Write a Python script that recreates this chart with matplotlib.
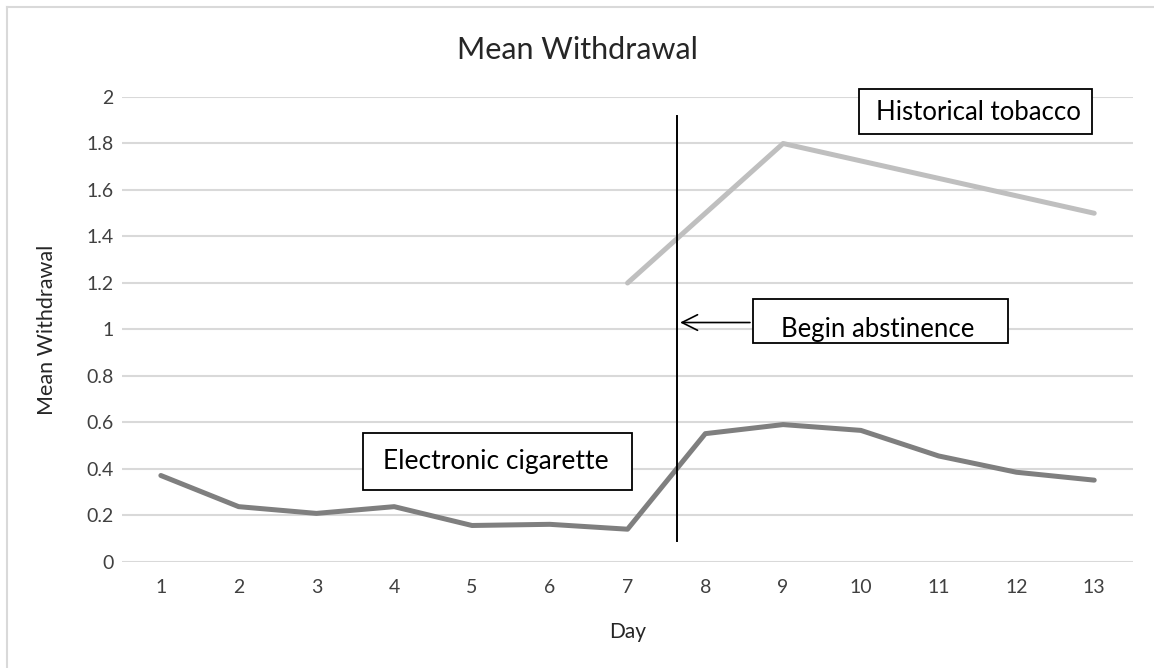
"""Mean withdrawal line chart (Excel-style)."""
import matplotlib.pyplot as plt
import matplotlib as mpl
from matplotlib.lines import Line2D
from matplotlib.patches import Rectangle

mpl.rcParams['font.family'] = ['Lato', 'DejaVu Sans']

days = list(range(1, 14))
ecig = [0.372, 0.238, 0.209, 0.238, 0.157, 0.162, 0.141,
        0.552, 0.591, 0.566, 0.456, 0.386, 0.352]
tob_days = [7, 8, 9, 10, 11, 12, 13]
tobacco = [1.2, 1.5, 1.8, 1.725, 1.65, 1.575, 1.5]
yticks = [0, 0.2, 0.4, 0.6, 0.8, 1, 1.2, 1.4, 1.6, 1.8, 2]
ytick_labels = ['0', '0.2', '0.4', '0.6', '0.8', '1', '1.2', '1.4', '1.6', '1.8', '2']

fig = plt.figure(figsize=(11.54, 6.68), dpi=100)
ax = fig.add_axes([0.1057, 0.1587, 0.8762, 0.6961])

ax.plot(days, ecig, color='#7f7f7f', lw=3.6, solid_capstyle='round',
        solid_joinstyle='round', zorder=3)
ax.plot(tob_days, tobacco, color='#bfbfbf', lw=3.6, solid_capstyle='round',
        solid_joinstyle='round', zorder=3)

ax.set_xlim(0.5, 13.5)
ax.set_ylim(0, 2)
ax.set_xticks(days)
ax.set_yticks(yticks)
ax.set_yticklabels(ytick_labels)
ax.tick_params(length=0, labelsize=14, colors='#404040')
ax.tick_params(axis='x', pad=12)
ax.tick_params(axis='y', pad=6)
ax.grid(axis='y', color='#d9d9d9', lw=1.5)
ax.set_axisbelow(True)
for s in ax.spines.values():
    s.set_visible(False)

ax.set_xlabel('Day', fontsize=15, color='#262626', labelpad=19)
ax.set_ylabel('Mean Withdrawal', fontsize=15.5, color='#262626', labelpad=21)
fig.text(0.5, 0.925, 'Mean Withdrawal', ha='center', va='center',
         fontsize=22, color='#262626')

# begin-abstinence marker
ax.plot([7.64, 7.64], [0.09, 1.92], color='black', lw=1.4, zorder=4)
ax.annotate('', xy=(7.64, 1.03), xytext=(8.61, 1.03),
            arrowprops=dict(arrowstyle='->', color='black', lw=1.2,
                            mutation_scale=28), zorder=4)

# text boxes: (x0, y0, x1, y1) in data units
def label_box(x0, y0, x1, y1, tx, ty, txt, size):
    ax.add_patch(Rectangle((x0, y0), x1 - x0, y1 - y0, fc='white', ec='black',
                           lw=1.3, zorder=5, clip_on=False))
    ax.text(tx, ty, txt, fontsize=size, color='black', va='center', ha='left',
            zorder=6, clip_on=False)

label_box(9.98, 1.841, 12.97, 2.034, 10.2, 1.935, 'Historical tobacco', 18.5)
label_box(8.61, 0.942, 11.89, 1.131, 8.97, 0.998, 'Begin abstinence', 18.5)
label_box(3.60, 0.310, 7.06, 0.555, 3.855, 0.434, 'Electronic cigarette', 19)

# chart-area border (top and left visible)
fig.add_artist(Line2D([0.006, 1.0], [0.9895, 0.9895], color='#d9d9d9', lw=1.5))
fig.add_artist(Line2D([0.006, 0.006], [0.0, 0.9895], color='#d9d9d9', lw=1.5))

fig.savefig('out.png', dpi=100)
